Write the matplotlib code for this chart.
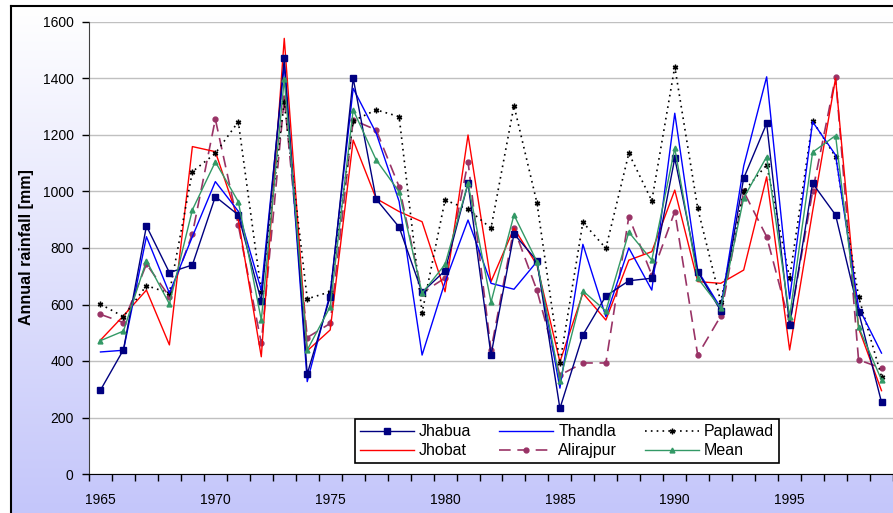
import numpy as np
import matplotlib
matplotlib.use("Agg")
import matplotlib.pyplot as plt

plt.rcParams['font.family'] = ['Liberation Sans', 'DejaVu Sans']

years = list(range(1965, 2000))

jhabua = [297, 440, 878, 713, 740, 982, 917, 612, 1471, 354, 628, 1401, 973, 874, 643,
          720, 1029, 421, 850, 755, 232, 492, 630, 684, 693, 1118, 716, 578, 1047, 1241,
          527, 1029, 917, 575, 254]
thandla = [432, 438, 840, 640, 840, 1035, 930, 651, 1448, 327, 640, 1365, 1207, 965, 421,
           680, 899, 675, 654, 752, 304, 813, 557, 800, 651, 1277, 720, 588, 1090, 1406,
           620, 1247, 1129, 590, 428]
jhobat = [474, 560, 651, 457, 1159, 1141, 900, 415, 1542, 436, 510, 1182, 975, 929, 893,
          645, 1200, 681, 870, 740, 397, 640, 545, 757, 787, 1005, 681, 675, 722, 1052,
          439, 930, 1401, 517, 295]
alirajpur = [565, 536, 743, 628, 850, 1256, 881, 463, 1330, 483, 533, 1253, 1218, 1017, 641,
             694, 1105, 439, 870, 650, 350, 393, 393, 911, 704, 929, 421, 559, 1000, 840,
             533, 1000, 1406, 404, 375]
paplawad = [601, 557, 667, 640, 1070, 1135, 1247, 645, 1316, 620, 645, 1250, 1289, 1265, 571,
            970, 937, 870, 1304, 960, 392, 891, 799, 1135, 967, 1442, 940, 610, 1000, 1094,
            693, 1250, 1123, 628, 345]
mean = [472, 506, 755, 602, 935, 1105, 964, 545, 1398, 439, 592, 1289, 1112, 999, 640,
        742, 1029, 608, 917, 752, 329, 648, 577, 856, 757, 1153, 693, 587, 977, 1123,
        557, 1139, 1198, 521, 333]

label_years = [1965, 1970, 1975, 1980, 1985, 1990, 1995]
y_ticks = [0, 200, 400, 600, 800, 1000, 1200, 1400, 1600]

W, H = 893, 513
fig = plt.figure(figsize=(W / 100, H / 100), dpi=100)
fig.patch.set_facecolor('white')

# gradient background of the chart area (white -> lavender)
bg = fig.add_axes([11 / W, 0, 1 - 11 / W, (H - 6) / H], zorder=-2)
grad = np.linspace(0, 1, 256)[:, None]
top = np.array([1.0, 1.0, 1.0])
bot = np.array([196, 198, 250]) / 255.0
img = top[None, None, :] * (1 - grad[:, :, None]) + bot[None, None, :] * grad[:, :, None]
bg.imshow(img, aspect='auto', extent=[0, 1, 0, 1])
bg.set_axis_off()

# chart border
fig.add_artist(plt.Line2D([11 / W, 1], [1 - 6 / H, 1 - 6 / H], color='black', lw=1.5,
                          transform=fig.transFigure))
fig.add_artist(plt.Line2D([11 / W, 11 / W], [0, 1 - 6 / H], color='black', lw=1.5,
                          transform=fig.transFigure))

ax = fig.add_axes([89 / W, 1 - 474 / H, 1 - 89 / W, (474 - 22) / H])
ax.set_facecolor('white')

ax.plot(years, jhabua, color='#000080', lw=1.0, marker='s', ms=5, label='Jhabua', zorder=6)
ax.plot(years, thandla, color='#0000ff', lw=1.0, label='Thandla', zorder=5)
ax.plot(years, paplawad, color='black', lw=1.2, ls=(0, (1, 2.5)), marker=(6, 2, 0), ms=4,
        mew=1.0, label='Paplawad', zorder=4)
ax.plot(years, jhobat, color='#ff0000', lw=1.0, label='Jhobat', zorder=3)
ax.plot(years, alirajpur, color='#993366', lw=1.2, ls=(0, (7, 4)), marker='o', ms=3.5,
        label='Alirajpur', zorder=2)
ax.plot(years, mean, color='#339966', lw=1.0, marker='^', ms=3.5, label='Mean', zorder=7)

ax.set_xlim(1964.5, 1999.07)
ax.set_ylim(0, 1600)

ax.set_xticks(np.arange(1964.5, 2000, 1.0))
ax.set_xticklabels([])
ax.set_xticks(label_years, minor=True)
ax.set_xticklabels([str(y) for y in label_years], minor=True)
ax.tick_params(axis='x', which='major', direction='out', length=5, width=1, color='black')
ax.tick_params(axis='x', which='minor', length=0, pad=14, labelsize=10)

ax.set_yticks(y_ticks)
ax.set_yticklabels([str(v) for v in y_ticks])
ax.tick_params(axis='y', direction='out', length=5, width=1, pad=6, labelsize=10)

ax.grid(axis='y', color='#c0c0c0', lw=1.0)
ax.set_axisbelow(True)
for s in ['top', 'right']:
    ax.spines[s].set_visible(False)
ax.spines['left'].set_color('#404040')
ax.spines['bottom'].set_color('black')

fig.text(27 / W, 1 - 247 / H, 'Annual rainfall [mm]', rotation=90, ha='center', va='center',
         fontsize=11.5, fontweight='bold')

handles, labels = ax.get_legend_handles_labels()
order = ['Jhabua', 'Jhobat', 'Thandla', 'Alirajpur', 'Paplawad', 'Mean']
hmap = dict(zip(labels, handles))
leg = ax.legend([hmap[k] for k in order], order, ncol=3, loc='lower left',
                bbox_to_anchor=((347 - 89) / (W - 89), (474 - 471) / 452,
                                (787 - 347) / (W - 89), (471 - 419) / 452),
                mode='expand', fontsize=11.5, handlelength=3.4, handletextpad=0.3,
                columnspacing=1.2, borderpad=0.3, labelspacing=0.25,
                fancybox=False, framealpha=1, edgecolor='black')
leg.get_frame().set_linewidth(1.2)

fig.savefig('out.png', dpi=100)
